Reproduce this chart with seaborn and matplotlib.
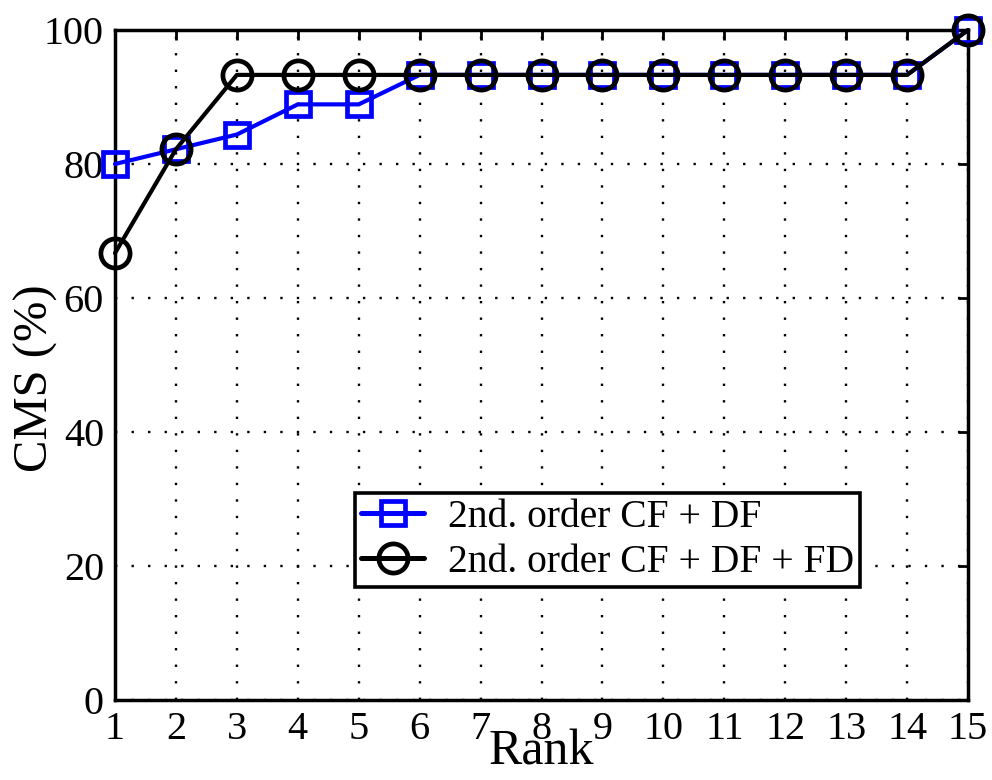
import numpy as np
import pandas as pd
import matplotlib
matplotlib.use("Agg")
import matplotlib.pyplot as plt
import seaborn as sns

# Cumulative match scores per rank
ranks = list(range(1, 16))
cms_cf_df = [80.0, 82.2, 84.4, 88.9, 88.9, 93.3, 93.3, 93.3, 93.3, 93.3, 93.3, 93.3, 93.3, 93.3, 100.0]
cms_cf_df_fd = [66.7, 82.2, 93.3, 93.3, 93.3, 93.3, 93.3, 93.3, 93.3, 93.3, 93.3, 93.3, 93.3, 93.3, 100.0]
label_a = "2nd. order CF + DF"
label_b = "2nd. order CF + DF + FD"
y_ticks = [0, 20, 40, 60, 80, 100]

sns.set_theme(style="white")
plt.rcParams["font.family"] = ["Liberation Serif", "DejaVu Serif"]
plt.rcParams["text.color"] = "black"
plt.rcParams["axes.labelcolor"] = "black"

df = pd.DataFrame({
    "Rank": ranks * 2,
    "CMS": cms_cf_df + cms_cf_df_fd,
    "Method": [label_a] * len(ranks) + [label_b] * len(ranks),
})

W, H = 992, 780
L, R, T, B = 115, 968, 30, 700
LW = 3.0
fig = plt.figure(figsize=(W / 100, H / 100), dpi=100)
ax = fig.add_axes([L / W, 1 - B / H, (R - L) / W, (B - T) / H])

sns.lineplot(data=df[df.Method == label_a], x="Rank", y="CMS", ax=ax,
             color="#0000ff", linewidth=LW, marker="s", markersize=17,
             markerfacecolor="none", markeredgecolor="#0000ff", markeredgewidth=3.4,
             label=label_a, clip_on=False, zorder=3)
sns.lineplot(data=df[df.Method == label_b], x="Rank", y="CMS", ax=ax,
             color="black", linewidth=LW, marker="o", markersize=21,
             markerfacecolor="none", markeredgecolor="black", markeredgewidth=3.4,
             label=label_b, clip_on=False, zorder=4)
for ln in ax.lines:
    ln.set_linewidth(LW)

ax.set_xlim(1, 15)
ax.set_ylim(0, 100)
ax.set_xticks(ranks)
ax.set_yticks(y_ticks)
ax.tick_params(axis="both", direction="in", length=7, width=2.0,
               top=True, right=True, labelsize=29, colors="black")
ax.tick_params(axis="x", pad=8)
ax.tick_params(axis="y", pad=8)
ax.grid(True, color="black", linestyle=(0, (1, 6)), linewidth=1.7)
for s in ax.spines.values():
    s.set_color("black")
    s.set_linewidth(2.5)
ax.set_facecolor("white")

ax.set_xlabel("Rank", fontsize=36, color="black")
ax.xaxis.set_label_coords(0.5, -(752 - B) / (B - T))
ax.xaxis.label.set_va("center")
ax.set_ylabel("CMS (%)", fontsize=35, color="black")
ax.yaxis.set_label_coords(-(L - 36) / (R - L), 0.48)
ax.yaxis.label.set_va("center")

leg = ax.legend(loc="lower left",
                bbox_to_anchor=((355 - L) / (R - L), (B - 587) / (B - T)),
                fontsize=28.5, frameon=True, fancybox=False, edgecolor="black",
                borderpad=0.15, handlelength=1.6, handletextpad=0.6, labelspacing=0.2,
                borderaxespad=0)
leg.get_frame().set_linewidth(2.6)
leg.get_frame().set_facecolor("white")
leg.get_frame().set_alpha(1)
for h in leg.legend_handles:
    h.set_linewidth(LW + 0.6)
for t in leg.get_texts():
    t.set_color("black")

fig.savefig("out.png", dpi=100, facecolor="white")
